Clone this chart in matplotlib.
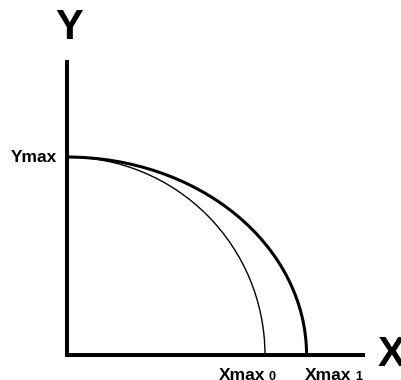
import matplotlib
matplotlib.use("Agg")
import matplotlib.pyplot as plt
from matplotlib.patches import Arc

plt.rcParams['font.family'] = ['Liberation Sans', 'DejaVu Sans']

# curve end points (Ymax = 1)
ymax = 1.0
xmax_vals = [1.0, 1.21]
xmax_subs = ['0', '1']
curve_lw = [1.0, 2.2]
xlim = (0, 1.495)
ylim = (0, 1.48)

W, H = 401, 380
fig = plt.figure(figsize=(W / 100, H / 100), dpi=100)
ax = fig.add_axes([67 / W, 25 / H, 296 / W, 293 / H])
ax.set_xlim(*xlim)
ax.set_ylim(*ylim)
for s in ['top', 'right']:
    ax.spines[s].set_visible(False)
for s in ['left', 'bottom']:
    ax.spines[s].set_linewidth(2.9)
    ax.spines[s].set_capstyle('projecting')
ax.set_xticks([])
ax.set_yticks([])
ax.patch.set_alpha(0)

for xm, lw in zip(xmax_vals, curve_lw):
    ax.add_patch(Arc((0, 0), 2 * xm, 2 * ymax, theta1=0, theta2=90,
                     lw=lw, color='black'))

# axis names
fig.text(69 / W, 1 - 28 / H, 'Y', fontsize=30, fontweight='bold',
         ha='center', va='center')
fig.text(378 / W, 1 - 355 / H, 'X', fontsize=30, fontweight='bold',
         ha='left', va='center')

ax.annotate('Ymax', xy=(0, ymax), xytext=(-7, 0), textcoords='offset points',
            ha='right', va='center', fontsize=12.5, fontweight='bold')

for i, (xm, sub) in enumerate(zip(xmax_vals, xmax_subs)):
    ha = 'right' if i == 0 else 'left'
    dx = 0 if i == 0 else -1.5
    t = ax.annotate('Xmax', xy=(xm, 0), xytext=(dx, -9),
                    textcoords='offset points', ha=ha, va='top',
                    fontsize=12.5, fontweight='bold')
    fig.canvas.draw()
    ex = t.get_window_extent()
    fig.text((ex.x1 + 4) / W, (ex.y1 - 4) / H, sub, fontsize=9,
             fontweight='bold', ha='left', va='top')

fig.savefig('out.png', dpi=100)
